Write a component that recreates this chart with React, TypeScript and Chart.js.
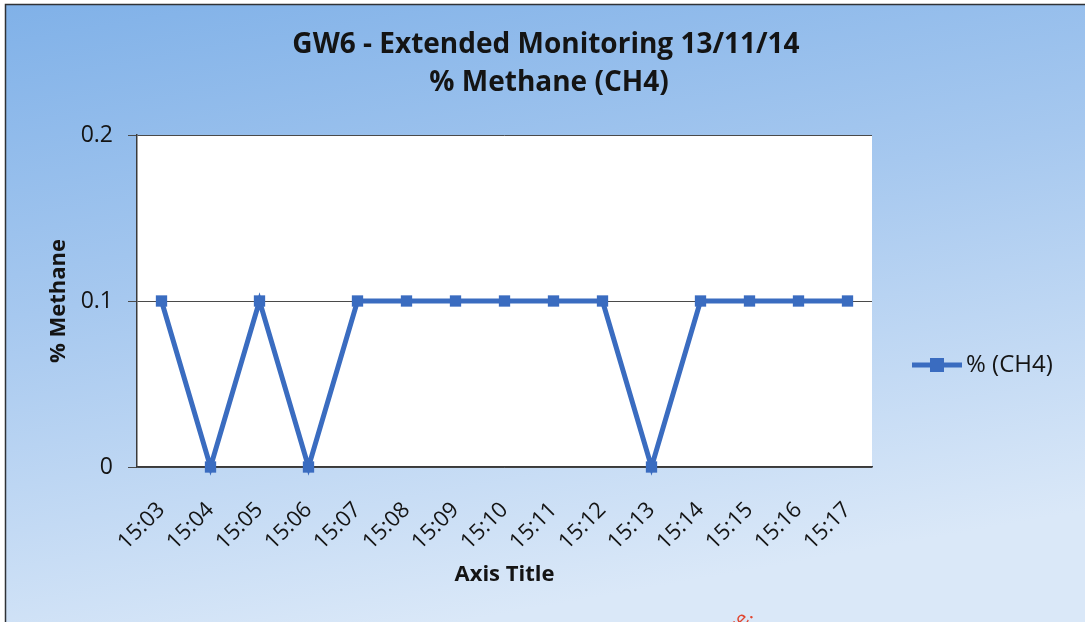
import React, { useEffect, useRef } from "react";
import { Chart, registerables } from "chart.js";

Chart.register(...registerables);

const categories = ["15:03", "15:04", "15:05", "15:06", "15:07", "15:08", "15:09", "15:10", "15:11", "15:12", "15:13", "15:14", "15:15", "15:16", "15:17"];
const methaneValues = [0.1, 0, 0.1, 0, 0.1, 0.1, 0.1, 0.1, 0.1, 0.1, 0, 0.1, 0.1, 0.1, 0.1];
const titleLines = ["GW6 - Extended Monitoring 13/11/14", "% Methane (CH4)"];
const seriesName = "% (CH4)";
const yTitle = "% Methane";
const xTitle = "Axis Title";

const LINE_COLOR = "#3a6cc0";
const TEXT_COLOR = "#141414";
const FONT = "'Open Sans', 'Liberation Sans', sans-serif";

const decorPlugin = {
  id: "decor",
  beforeDraw(chart: any) {
    const { ctx, width, height, chartArea } = chart;
    ctx.save();
    ctx.fillStyle = "#ffffff";
    ctx.fillRect(0, 0, width, height);
    const g = ctx.createLinearGradient(0, 4, 120, height + 60);
    g.addColorStop(0, "#80b1e8");
    g.addColorStop(0.45, "#a6c8ef");
    g.addColorStop(1, "#dae8f8");
    ctx.fillStyle = g;
    ctx.fillRect(5, 4, width - 5, height - 4);
    ctx.strokeStyle = "#2f3236";
    ctx.lineWidth = 1.5;
    ctx.beginPath();
    ctx.moveTo(5.5, height);
    ctx.lineTo(5.5, 4.5);
    ctx.lineTo(width, 4.5);
    ctx.stroke();
    ctx.fillStyle = "#ffffff";
    ctx.fillRect(chartArea.left, chartArea.top, chartArea.right - chartArea.left, chartArea.bottom - chartArea.top);
    ctx.restore();
  },
  afterDraw(chart: any) {
    const { ctx } = chart;
    ctx.save();
    // title
    ctx.fillStyle = TEXT_COLOR;
    ctx.font = `bold 28px ${FONT}`;
    ctx.textAlign = "center";
    ctx.textBaseline = "middle";
    ctx.fillText(titleLines[0], 546, 45);
    ctx.fillText(titleLines[1], 549, 83);
    // legend
    const ly = 365;
    ctx.strokeStyle = LINE_COLOR;
    ctx.lineWidth = 5;
    ctx.beginPath();
    ctx.moveTo(912, ly);
    ctx.lineTo(962, ly);
    ctx.stroke();
    ctx.fillStyle = LINE_COLOR;
    ctx.fillRect(930, ly - 7, 14, 14);
    ctx.fillStyle = TEXT_COLOR;
    ctx.font = `24px ${FONT}`;
    ctx.textAlign = "left";
    ctx.fillText(seriesName, 966, ly);
    // partial red stamp text
    ctx.translate(754, 616);
    ctx.rotate(-Math.PI / 4);
    ctx.fillStyle = "#e0452f";
    ctx.font = `20px ${FONT}`;
    ctx.textAlign = "right";
    ctx.textBaseline = "alphabetic";
    ctx.fillText("ce.", 0, 0);
    ctx.restore();
  },
};

export default function App() {
  const ref = useRef<HTMLCanvasElement>(null);
  useEffect(() => {
    if (!ref.current) return;
    const chart = new Chart(ref.current, {
      type: "line",
      data: {
        labels: categories,
        datasets: [
          {
            label: seriesName,
            data: methaneValues,
            borderColor: LINE_COLOR,
            backgroundColor: LINE_COLOR,
            borderWidth: 5,
            pointStyle: "rect",
            pointRadius: 8,
            pointBorderWidth: 0,
            tension: 0,
            clip: false as any,
          },
        ],
      },
      plugins: [decorPlugin],
      options: {
        responsive: false,
        animation: false,
        layout: { padding: { top: 135, right: 213, left: 0, bottom: 0 } },
        plugins: { legend: { display: false }, title: { display: false }, tooltip: { enabled: false } },
        scales: {
          x: {
            type: "category",
            offset: true,
            grid: { display: false, drawTicks: false },
            border: { display: true, color: "#3a3a3a", width: 1.5 },
            ticks: {
              autoSkip: false,
              maxRotation: 45,
              minRotation: 45,
              padding: 30,
              color: TEXT_COLOR,
              font: { family: FONT, size: 22 },
            },
            title: {
              display: true,
              text: xTitle,
              color: TEXT_COLOR,
              font: { family: FONT, size: 22, weight: "bold" },
              padding: { top: 0, bottom: 34 },
            },
            afterFit(scale: any) {
              scale.height = 155;
            },
          },
          y: {
            min: 0,
            max: 0.2,
            grid: { color: "#4a4a4a", lineWidth: 1, tickLength: 9, drawTicks: true },
            border: { display: true, color: "#3a3a3a", width: 1.5 },
            ticks: {
              stepSize: 0.1,
              padding: 15,
              color: TEXT_COLOR,
              font: { family: FONT, size: 23 },
              callback: (v: any) => String(Math.round(Number(v) * 10) / 10),
            },
            title: {
              display: true,
              text: yTitle,
              color: TEXT_COLOR,
              font: { family: FONT, size: 22, weight: "bold" },
              padding: { top: 46, bottom: 0 },
            },
            afterFit(scale: any) {
              scale.width = 137;
            },
          },
        },
      },
    });
    return () => chart.destroy();
  }, []);
  return (
    <div style={{ position: "fixed", left: 0, top: 0, width: 1085, height: 622 }}>
      <canvas ref={ref} width={1085} height={622} style={{ display: "block" }} />
    </div>
  );
}
